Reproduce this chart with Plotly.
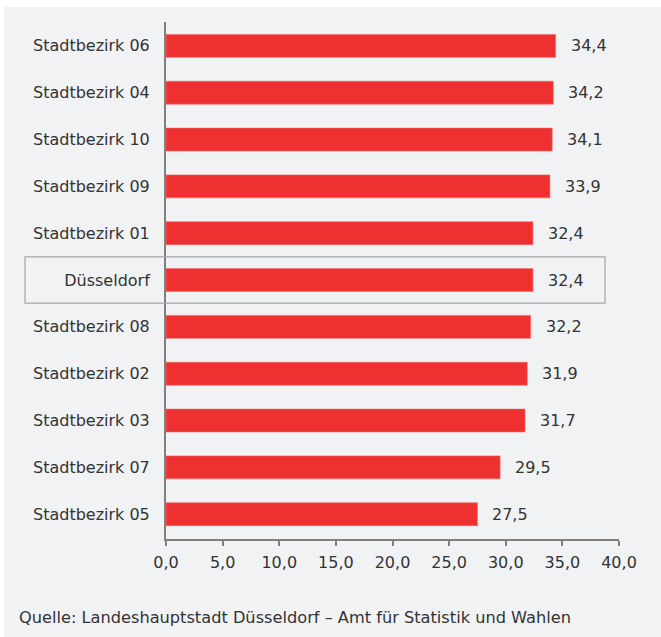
import plotly.graph_objects as go

# Districts ordered top to bottom, with the city total in the middle
districts = [
    "Stadtbezirk 06", "Stadtbezirk 04", "Stadtbezirk 10", "Stadtbezirk 09",
    "Stadtbezirk 01", "Düsseldorf", "Stadtbezirk 08", "Stadtbezirk 02",
    "Stadtbezirk 03", "Stadtbezirk 07", "Stadtbezirk 05",
]
values = [34.4, 34.2, 34.1, 33.9, 32.4, 32.4, 32.2, 31.9, 31.7, 29.5, 27.5]
x_ticks = [0, 5, 10, 15, 20, 25, 30, 35, 40]
source_text = "Quelle: Landeshauptstadt Düsseldorf – Amt für Statistik und Wahlen"
highlight = "Düsseldorf"

W, H = 661, 637
ML, MR, MT, MB = 166, 42, 22, 98
PW, PH = W - ML - MR, H - MT - MB

BG = "#f1f2f4"
RED = "#ef3030"
AXIS = "#808080"
TEXT = "#333333"
FONT = "DejaVu Sans"
FS = 16


def px_x(p):
    return (p - ML) / PW


def px_y(p):
    return (H - MB - p) / PH


fig = go.Figure()
fig.add_trace(go.Bar(
    x=values,
    y=districts,
    orientation="h",
    width=0.49,
    marker=dict(color=RED, line=dict(color="#f26a6a", width=0.6)),
    hoverinfo="skip",
))

# value labels to the right of each bar
annotations = []
for d, v in zip(districts, values):
    annotations.append(dict(
        x=v, y=d, xref="x", yref="y",
        text=f"{v:.1f}".replace(".", ","),
        showarrow=False, xanchor="left", yanchor="middle",
        xshift=13, font=dict(family=FONT, size=FS, color=TEXT),
    ))

annotations.append(dict(
    x=px_x(17), y=px_y(617), xref="paper", yref="paper",
    text=source_text, showarrow=False, xanchor="left", yanchor="middle",
    font=dict(family=FONT, size=16.2, color=TEXT),
))

hi = districts.index(highlight)
shapes = [
    # grey panel behind the whole chart
    dict(type="rect", xref="paper", yref="paper", layer="below",
         x0=px_x(4), x1=px_x(W + 5), y0=px_y(H + 5), y1=px_y(7),
         fillcolor=BG, line=dict(width=0)),
    # frame around the city total row
    dict(type="rect", xref="paper", yref="y", layer="above",
         x0=px_x(25), x1=px_x(605), y0=hi - 0.495, y1=hi + 0.495,
         fillcolor="rgba(0,0,0,0)", line=dict(color="#a6a6a6", width=1.2)),
]

fig.update_layout(
    width=W, height=H,
    margin=dict(l=ML, r=MR, t=MT, b=MB, pad=0),
    paper_bgcolor="white",
    plot_bgcolor="rgba(0,0,0,0)",
    separators=",.",
    showlegend=False,
    bargap=0.5,
    font=dict(family=FONT, size=FS, color=TEXT),
    annotations=annotations,
    shapes=shapes,
)
fig.update_xaxes(
    range=[0, 40],
    tickvals=x_ticks,
    ticktext=[f"{t:.1f}".replace(".", ",") for t in x_ticks],
    showgrid=False, zeroline=False,
    showline=True, linecolor=AXIS, linewidth=2,
    ticks="outside", ticklen=5, tickwidth=2, tickcolor=AXIS,
    ticklabelstandoff=3,
    tickfont=dict(family=FONT, size=FS, color=TEXT),
    fixedrange=True,
)
fig.update_yaxes(
    type="category",
    categoryorder="array", categoryarray=districts,
    autorange=False, range=[len(districts) - 0.5 + 0.03, -0.5 - 0.01],
    showgrid=False, zeroline=False,
    showline=True, linecolor=AXIS, linewidth=2,
    ticks="", ticklabelstandoff=11,
    tickfont=dict(family=FONT, size=FS, color=TEXT),
    fixedrange=True,
)

fig.write_html("out.html")
